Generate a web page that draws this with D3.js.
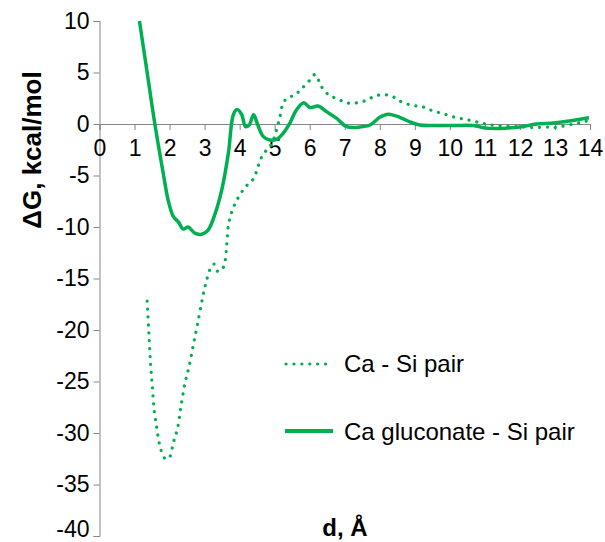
<!DOCTYPE html>
<html>
<head>
<meta charset="utf-8">
<script src="https://cdn.jsdelivr.net/npm/d3@7"></script>
<style>
  body { margin: 0; background: #fff; }
  text { font-family: "Liberation Sans", Arial, sans-serif; fill: #000; }
</style>
</head>
<body>
<div id="wrapper"></div>
<script>
// Ca - Si pair (dotted)
const caSiD = [1.36, 1.41, 1.46, 1.51, 1.56, 1.63, 1.70, 1.78, 1.88, 1.99, 2.11, 2.23, 2.33, 2.45, 2.56, 2.68, 2.80, 2.94, 3.04, 3.17, 3.27, 3.37, 3.50, 3.58, 3.63, 3.69, 3.80, 3.95, 4.10, 4.25, 4.40, 4.50, 4.60, 4.75, 4.92, 5.05, 5.15, 5.25, 5.40, 5.58, 5.75, 5.92, 6.15, 6.34, 6.55, 6.75, 6.95, 7.15, 7.40, 7.62, 7.85, 8.15, 8.40, 8.65, 8.95, 9.20, 9.45, 9.70, 9.95, 10.2, 10.45, 10.7, 10.95, 11.2, 11.6, 12.0, 12.4, 12.8, 13.0, 13.3, 13.6, 13.85, 14.0];
const caSiG = [-17.2, -20.3, -23.4, -25.6, -27.8, -29.4, -30.9, -31.9, -32.5, -32.4, -30.9, -29.5, -27.3, -25.0, -23.5, -21.4, -19.4, -16.9, -15.4, -14.0, -13.6, -14.3, -14.1, -13.4, -11.8, -9.6, -8.3, -7.2, -6.4, -5.8, -5.3, -4.4, -3.4, -2.6, -1.9, -0.6, 0.7, 2.1, 2.6, 2.8, 3.4, 3.9, 4.8, 3.6, 2.8, 2.5, 2.2, 2.0, 2.1, 2.3, 2.7, 2.85, 2.6, 2.1, 1.8, 1.7, 1.35, 1.1, 0.85, 0.6, 0.45, 0.25, 0.05, -0.1, -0.2, -0.26, -0.35, -0.3, -0.35, -0.15, 0.05, 0.25, 0.3];

// Ca gluconate - Si pair (solid)
const caGlD = [1.14, 1.36, 1.58, 1.82, 1.96, 2.11, 2.25, 2.39, 2.53, 2.72, 2.92, 3.10, 3.30, 3.49, 3.68, 3.82, 3.93, 4.06, 4.17, 4.27, 4.40, 4.50, 4.67, 4.86, 5.05, 5.24, 5.43, 5.62, 5.83, 6.0, 6.24, 6.48, 6.77, 7.05, 7.43, 7.72, 8.0, 8.24, 8.57, 8.86, 9.14, 9.52, 10.1, 10.66, 11.05, 11.62, 12.0, 12.47, 12.95, 13.42, 13.8, 13.97];
const caGlG = [10, 5, 0, -4.8, -7.4, -9.0, -9.5, -10.2, -10.0, -10.6, -10.7, -10.3, -8.7, -6.4, -2.8, 0.9, 1.4, 0.9, -0.26, -0.1, 0.9, 0.07, -1.2, -1.55, -1.5, -0.9, 0.07, 1.36, 2.07, 1.6, 1.75, 1.2, 0.55, -0.25, -0.3, -0.1, 0.65, 0.94, 0.65, 0.2, -0.1, -0.15, -0.15, -0.15, -0.4, -0.4, -0.3, 0, 0.1, 0.3, 0.5, 0.6];

const xTicks = d3.range(0, 15, 1);
const yTicks = d3.range(-40, 15, 5);
const seriesNames = ["Ca - Si pair", "Ca gluconate - Si pair"];

const green = "#00b050";
const axisColor = "#868686";

const dimensions = {
  width: 605,
  height: 542,
  margin: { top: 21, right: 15, bottom: 6, left: 99.5 }
};
dimensions.boundedWidth = 590 - dimensions.margin.left;
dimensions.boundedHeight = 536 - dimensions.margin.top;

const wrapper = d3.select("#wrapper")
  .append("svg")
  .attr("width", dimensions.width)
  .attr("height", dimensions.height);

const bounds = wrapper.append("g")
  .attr("transform", `translate(${dimensions.margin.left}, ${dimensions.margin.top})`);

const xScale = d3.scaleLinear().domain([0, 14]).range([0, dimensions.boundedWidth]);
const yScale = d3.scaleLinear().domain([-40, 10]).range([dimensions.boundedHeight, 0]);

// axes
const yAxis = bounds.append("g")
  .call(d3.axisLeft(yScale).tickValues(yTicks).tickSize(6).tickPadding(4).tickFormat(d3.format("d")));
const xAxis = bounds.append("g")
  .attr("transform", `translate(0, ${yScale(0)})`)
  .call(d3.axisBottom(xScale).tickValues(xTicks).tickSize(6).tickPadding(10));

[xAxis, yAxis].forEach(ax => {
  ax.select(".domain").attr("stroke", axisColor);
  ax.selectAll(".tick line").attr("stroke", axisColor);
  ax.selectAll(".tick text")
    .attr("font-size", 23)
    .attr("font-family", "'Liberation Sans', Arial, sans-serif")
    .attr("fill", "#000");
});
yAxis.selectAll(".tick text").text(d => d < 0 ? "-" + Math.abs(d) : d);
// bottom label sits at the window edge, lift it so it stays whole
yAxis.selectAll(".tick text").filter(d => d === -40).attr("dy", "0em");

// lines
const lineGen = d3.line()
  .x(d => xScale(d[0]))
  .y(d => yScale(d[1]))
  .curve(d3.curveCatmullRom.alpha(0.5));

const caSi = caSiD.map((d, i) => [d, caSiG[i]]);
const caGl = caGlD.map((d, i) => [d, caGlG[i]]);

bounds.append("path")
  .attr("d", lineGen(caSi))
  .attr("fill", "none")
  .attr("stroke", green)
  .attr("stroke-width", 3.2)
  .attr("stroke-linecap", "round")
  .attr("stroke-dasharray", "0.1 7.8");

bounds.append("path")
  .attr("d", lineGen(caGl))
  .attr("fill", "none")
  .attr("stroke", green)
  .attr("stroke-width", 3.5)
  .attr("stroke-linejoin", "round");

// legend
const legend = wrapper.append("g");
legend.append("line")
  .attr("x1", 286).attr("x2", 330).attr("y1", 364).attr("y2", 364)
  .attr("stroke", green).attr("stroke-width", 3.2)
  .attr("stroke-linecap", "round").attr("stroke-dasharray", "0.1 7.8");
legend.append("text")
  .attr("x", 344).attr("y", 372)
  .attr("font-size", 24)
  .text(seriesNames[0]);
legend.append("line")
  .attr("x1", 285).attr("x2", 333).attr("y1", 431).attr("y2", 431)
  .attr("stroke", green).attr("stroke-width", 4);
legend.append("text")
  .attr("x", 344).attr("y", 440)
  .attr("font-size", 24)
  .text(seriesNames[1]);

// axis labels
wrapper.append("text")
  .attr("x", 345).attr("y", 536)
  .attr("text-anchor", "middle")
  .attr("font-size", 24)
  .attr("font-weight", "bold")
  .text("d, Å");

wrapper.append("text")
  .attr("transform", "translate(41, 150) rotate(-90)")
  .attr("text-anchor", "middle")
  .attr("font-size", 26)
  .attr("font-weight", "bold")
  .text("ΔG, kcal/mol");
</script>
</body>
</html>
